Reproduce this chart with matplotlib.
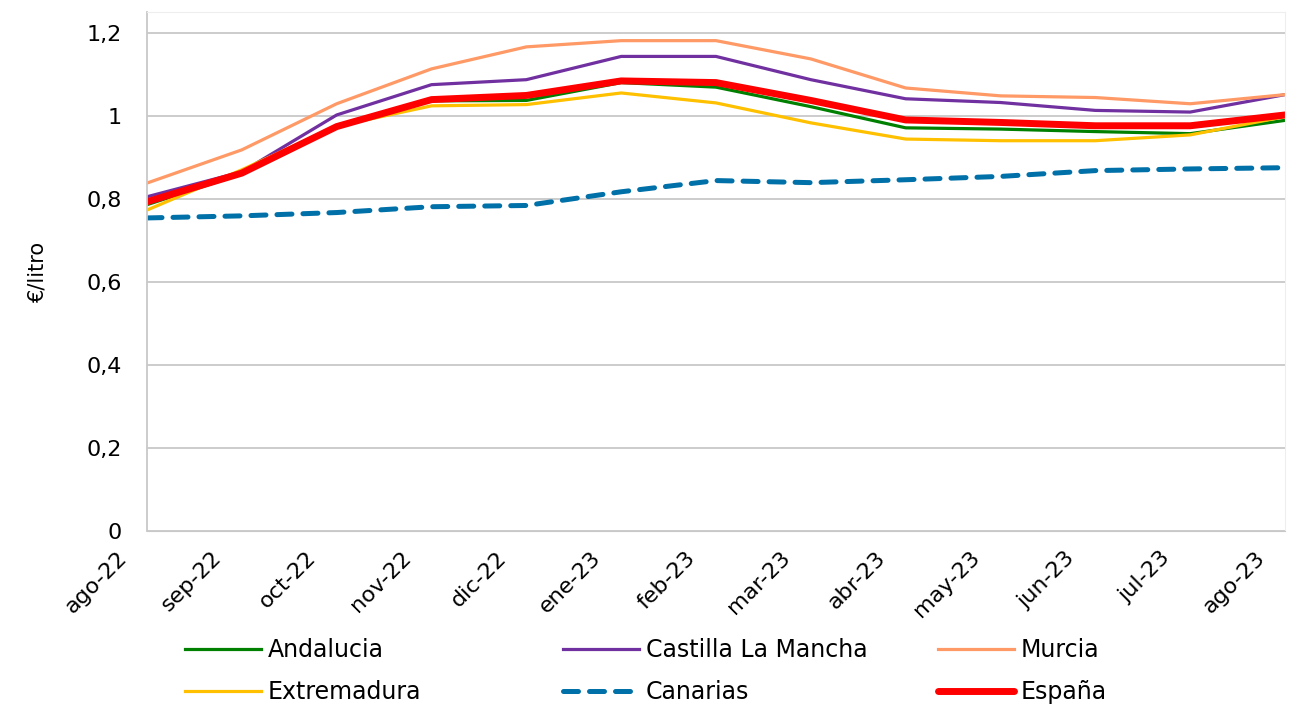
import numpy as np
import matplotlib
matplotlib.use('Agg')
import matplotlib.pyplot as plt
from matplotlib.transforms import ScaledTranslation

# datos (€/litro)
meses = ['ago-22', 'sep-22', 'oct-22', 'nov-22', 'dic-22', 'ene-23', 'feb-23',
         'mar-23', 'abr-23', 'may-23', 'jun-23', 'jul-23', 'ago-23']

andalucia = [0.786, 0.860, 0.975, 1.036, 1.037, 1.080, 1.069, 1.022, 0.971, 0.968, 0.962, 0.957, 0.989]
castilla = [0.805, 0.865, 1.002, 1.075, 1.087, 1.143, 1.143, 1.087, 1.041, 1.032, 1.013, 1.009, 1.051]
murcia = [0.838, 0.918, 1.029, 1.113, 1.166, 1.181, 1.181, 1.137, 1.067, 1.048, 1.044, 1.029, 1.051]
extremadura = [0.773, 0.870, 0.975, 1.024, 1.027, 1.055, 1.031, 0.983, 0.944, 0.940, 0.940, 0.954, 0.998]
canarias = [0.754, 0.759, 0.767, 0.781, 0.784, 0.817, 0.844, 0.839, 0.846, 0.854, 0.868, 0.872, 0.875]
espana = [0.793, 0.862, 0.974, 1.039, 1.049, 1.084, 1.080, 1.037, 0.990, 0.984, 0.976, 0.976, 1.002]

yticks = [0, 0.2, 0.4, 0.6, 0.8, 1.0, 1.2]
ytick_labels = ['0', '0,2', '0,4', '0,6', '0,8', '1', '1,2']

plt.rcParams['font.family'] = ['DejaVu Sans']

fig = plt.figure(figsize=(12.92, 7.08), dpi=100)
ax = fig.add_axes([147/1292, 1 - 531/708, (1285 - 147)/1292, (531 - 12)/708])

x = np.arange(len(meses))
l_and, = ax.plot(x, andalucia, color='#008000', lw=2.3, label='Andalucia')
l_cas, = ax.plot(x, castilla, color='#7030A0', lw=2.3, label='Castilla La Mancha')
l_mur, = ax.plot(x, murcia, color='#FF9966', lw=2.3, label='Murcia')
l_ext, = ax.plot(x, extremadura, color='#FFC000', lw=2.3, label='Extremadura')
l_can, = ax.plot(x, canarias, color='#0070A8', lw=3.6, ls=(0, (3.0, 2.2)),
                 dash_capstyle='round', label='Canarias')
l_esp, = ax.plot(x, espana, color='#FF0000', lw=5.0, solid_capstyle='round', label='España')

ax.set_xlim(0, len(meses) - 1)
ax.set_ylim(0, 1.25)
ax.set_yticks(yticks)
ax.set_yticklabels(ytick_labels, fontsize=16)
ax.set_xticks(x)
ax.set_xticklabels(meses, rotation=45, ha='right', rotation_mode='anchor', fontsize=16)
ax.tick_params(axis='x', length=0, pad=12)
ax.tick_params(axis='y', length=0, pad=18)
# correr las etiquetas del eje x hacia la izquierda como en Excel
desplaz = ScaledTranslation(-22/72, 0, fig.dpi_scale_trans)
for lab in ax.get_xticklabels():
    lab.set_transform(lab.get_transform() + desplaz)

ax.yaxis.grid(True, color='#C8C8C8', lw=1.3)
ax.set_axisbelow(True)
for s in ['top', 'right']:
    ax.spines[s].set_color('#EEEEEE')
for s in ['left', 'bottom']:
    ax.spines[s].set_color('#C8C8C8')
ax.spines['left'].set_linewidth(1.3)
ax.set_ylabel('€/litro', fontsize=15)
ax.yaxis.set_label_coords(-100/1138, 0.5)

# leyenda en 3 columnas (una leyenda por columna para igualar el ancho)
columnas = [([l_and, l_ext], 185), ([l_cas, l_can], 563), ([l_mur, l_esp], 938)]
for handles, xpix in columnas:
    leg = fig.legend(handles=handles, loc='upper left',
                     bbox_to_anchor=(xpix/1292, 1 - 638/708),
                     frameon=False, fontsize=17, handlelength=3.2,
                     handletextpad=0.3, labelspacing=0.78, borderpad=0, borderaxespad=0)

fig.savefig('out.png', dpi=100)
